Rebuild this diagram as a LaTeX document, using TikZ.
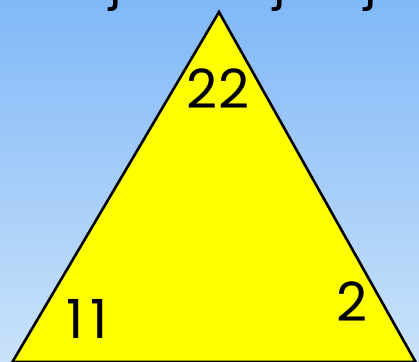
\documentclass[tikz,border=0pt]{standalone}
\usepackage{fontspec}
\setmainfont{Poppins}
\definecolor{skytop}{RGB}{128,184,248}
\definecolor{skymid}{RGB}{166,204,246}
\definecolor{skybot}{RGB}{202,226,250}
\definecolor{tri}{RGB}{255,255,0}
\tikzset{
  num/.style={font=\fontsize{54}{54}\selectfont, inner sep=0pt},
  cut/.style={font=\fontsize{50}{50}\selectfont, inner sep=0pt, anchor=base},
}
\begin{document}
\begin{tikzpicture}[x=1pt, y=-1pt]
    \useasboundingbox (0,0) rectangle (419,361);
    \clip (0,0) rectangle (419,361);
    \shade[top color=skytop, middle color=skymid, bottom color=skybot] (0,0) rectangle (419,361);
    % letters of the line above, cut off
    \node[cut] (ja) at (116,-1) {j};
    \node[cut] (jb) at (280,-1) {j};
    \node[cut] (jc) at (371,-1) {j};
    % triangle
    \coordinate (apex) at (219,12);
    \coordinate (left) at (12.4,362);
    \coordinate (right) at (415.6,362);
    \filldraw[fill=tri, line width=2.6pt, line join=miter] (apex) -- (left) -- (right) -- cycle;
    \node[num] (top) at (218,89) {22};
    \node[num] (bl) at (87,319) {1\hspace{7pt}1};
    \node[num] (br) at (352,302) {2};
\end{tikzpicture}
\end{document}
